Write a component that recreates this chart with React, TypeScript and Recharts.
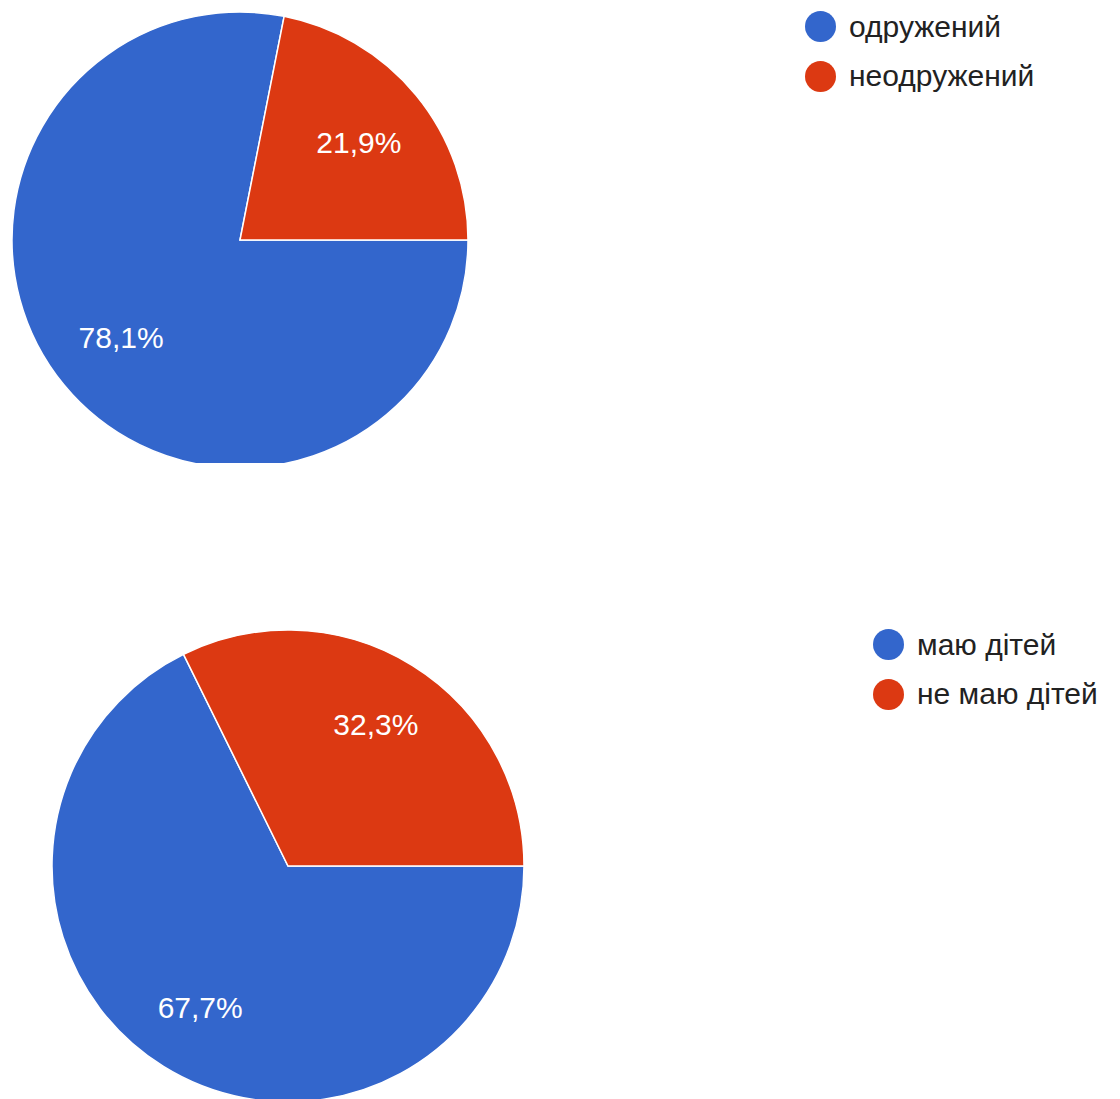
import React from "react";
import { PieChart, Pie, Cell, Legend } from "recharts";

const maritalLabels = ["одружений", "неодружений"];
const maritalValues = [78.1, 21.9];
const childrenLabels = ["маю дітей", "не маю дітей"];
const childrenValues = [67.7, 32.3];
const colors = ["#3366cc", "#dc3912"];

const maritalData = maritalLabels.map((name, i) => ({ name, value: maritalValues[i] }));
const childrenData = childrenLabels.map((name, i) => ({ name, value: childrenValues[i] }));

const RAD = Math.PI / 180;
const FONT = "'Liberation Sans', Arial, sans-serif";
const NO_MARGIN = { top: 0, right: 0, bottom: 0, left: 0 };

const makeLabel = (factor: number) => (props: any) => {
  const { cx, cy, midAngle, outerRadius, value } = props;
  const r = outerRadius * factor;
  const x = cx + r * Math.cos(-midAngle * RAD);
  const y = cy + r * Math.sin(-midAngle * RAD);
  return (
    <text
      x={x}
      y={y}
      fill="#ffffff"
      textAnchor="middle"
      dominantBaseline="central"
      fontSize={30}
      fontFamily={FONT}
    >
      {value.toFixed(1).replace(".", ",") + "%"}
    </text>
  );
};

const makeLegend = (data: { name: string }[]) => () => (
  <div style={{ fontFamily: FONT }}>
    {data.map((d, i) => (
      <div key={d.name} style={{ display: "flex", alignItems: "center", height: 49.5 }}>
        <div
          style={{
            width: 31,
            height: 31,
            borderRadius: "50%",
            background: colors[i],
            marginRight: 13,
            flexShrink: 0,
          }}
        />
        <span style={{ fontSize: 30, color: "#222222", whiteSpace: "nowrap" }}>{d.name}</span>
      </div>
    ))}
  </div>
);

export default function App() {
  return (
    <div
      style={{
        position: "absolute",
        left: 0,
        top: 0,
        width: 1120,
        height: 1099,
        overflow: "hidden",
        background: "#ffffff",
      }}
    >
      <div style={{ position: "absolute", left: 0, top: 0 }}>
        <PieChart width={1120} height={463} margin={NO_MARGIN}>
          <Pie
            data={maritalData}
            dataKey="value"
            nameKey="name"
            cx={240}
            cy={240}
            outerRadius={228}
            startAngle={0}
            endAngle={-360}
            stroke="#ffffff"
            strokeWidth={1.5}
            label={makeLabel(0.675)}
            labelLine={false}
            isAnimationActive={false}
          >
            {maritalData.map((d, i) => (
              <Cell key={d.name} fill={colors[i]} />
            ))}
          </Pie>
          <Legend
            content={makeLegend(maritalData)}
            wrapperStyle={{ position: "absolute", left: 805, top: 2, width: 310 }}
          />
        </PieChart>
      </div>
      <div style={{ position: "absolute", left: 0, top: 463 }}>
        <PieChart width={1120} height={636} margin={NO_MARGIN}>
          <Pie
            data={childrenData}
            dataKey="value"
            nameKey="name"
            cx={288}
            cy={403}
            outerRadius={236}
            startAngle={0}
            endAngle={-360}
            stroke="#ffffff"
            strokeWidth={1.5}
            label={makeLabel(0.705)}
            labelLine={false}
            isAnimationActive={false}
          >
            {childrenData.map((d, i) => (
              <Cell key={d.name} fill={colors[i]} />
            ))}
          </Pie>
          <Legend
            content={makeLegend(childrenData)}
            wrapperStyle={{ position: "absolute", left: 873, top: 157, width: 250 }}
          />
        </PieChart>
      </div>
    </div>
  );
}
